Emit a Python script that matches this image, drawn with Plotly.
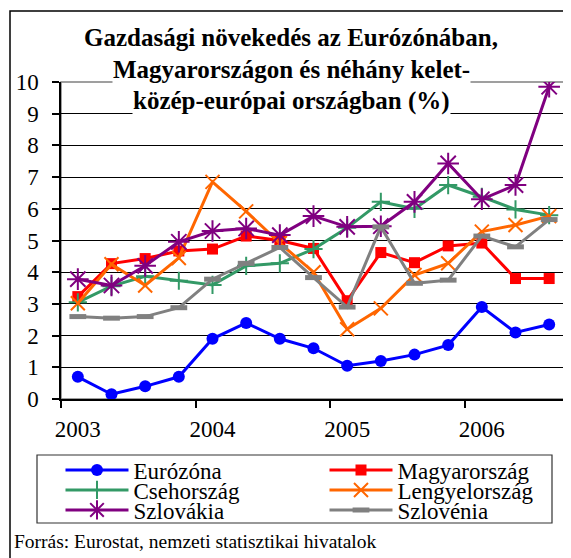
import plotly.graph_objects as go

quarters = list(range(15))
year_ticks = [0, 4, 8, 12]
year_labels = ["2003", "2004", "2005", "2006"]

eurozona = [0.7, 0.15, 0.4, 0.7, 1.9, 2.4, 1.9, 1.6, 1.05, 1.2, 1.4, 1.7, 2.9, 2.1, 2.35]
magyar = [3.23, 4.27, 4.43, 4.67, 4.73, 5.14, 5.0, 4.75, 3.1, 4.62, 4.3, 4.83, 4.92, 3.8, 3.8]
cseh = [3.05, 3.56, 3.87, 3.73, 3.6, 4.2, 4.28, 4.73, 5.4, 6.22, 6.0, 6.75, 6.38, 5.98, 5.8]
lengyel = [3.02, 4.25, 3.58, 4.45, 6.85, 5.92, 4.92, 4.0, 2.2, 2.86, 3.91, 4.28, 5.28, 5.49, 5.77]
szlovakia = [3.78, 3.58, 4.2, 4.96, 5.3, 5.38, 5.17, 5.77, 5.43, 5.45, 6.22, 7.43, 6.3, 6.75, 9.85]
szlovenia = [2.6, 2.55, 2.6, 2.88, 3.78, 4.28, 4.78, 3.83, 2.9, 5.43, 3.65, 3.75, 5.14, 4.8, 5.66]

series = [
    ("Eurózóna", eurozona, "#0000FF", dict(symbol="circle", size=12), "legend"),
    ("Magyarország", magyar, "#FF0000", dict(symbol="square", size=11), "legend"),
    ("Csehország", cseh, "#339966", dict(symbol="cross-thin", size=13, line=dict(width=2, color="#339966")), "legend2"),
    ("Lengyelország", lengyel, "#FF6600", dict(symbol="x-thin", size=14, line=dict(width=2, color="#FF6600")), "legend2"),
    ("Szlovákia", szlovakia, "#800080", dict(symbol="asterisk", size=18, line=dict(width=2, color="#800080")), "legend3"),
    ("Szlovénia", szlovenia, "#808080", dict(symbol="line-ew", size=12, line=dict(width=5, color="#808080")), "legend3"),
]

FONT = "Times New Roman"

fig = go.Figure()
for name, vals, col, mk, lg in series:
    mk = dict(mk)
    mk["color"] = col
    fig.add_trace(go.Scatter(x=quarters, y=vals, name=name, mode="lines+markers",
                             line=dict(color=col, width=3), marker=mk, legend=lg))

OFF = 8  # page body margin
W, H = 571, 558
L, T = 61 - OFF, 82 - OFF
R = W - (566 - OFF)
B = H - (399 - OFF)
pw, ph = W - L - R, H - T - B

def px(v):
    return (v - OFF - L) / pw

def py(v):
    return (H - B - (v - OFF)) / ph

def legend_row(yc):
    return dict(orientation="h", x=-0.001, y=py(yc), xanchor="left", yanchor="middle",
                entrywidth=186, entrywidthmode="pixels", itemwidth=63,
                font=dict(family=FONT, size=23, color="black"),
                bgcolor="rgba(0,0,0,0)", borderwidth=0)

fig.update_layout(
    width=W, height=H,
    margin=dict(l=L, r=R, t=T, b=B, autoexpand=False),
    paper_bgcolor="white", plot_bgcolor="white",
    font=dict(family=FONT, color="black", size=21),
    showlegend=True,
    legend=legend_row(470),
    legend2=legend_row(490),
    legend3=legend_row(510),
    xaxis=dict(range=[-0.5, 14.5], tickvals=year_ticks, ticktext=year_labels,
               ticks="", showgrid=False, zeroline=False,
               showline=True, linecolor="black", linewidth=1.5,
               tickfont=dict(family=FONT, size=23), ticklabelstandoff=9,
               minor=dict(tickvals=[-0.5, 3.5, 7.5, 11.5], ticks="outside", ticklen=7,
                          tickcolor="black", tickwidth=1.5, showgrid=False)),
    yaxis=dict(range=[0, 10], dtick=1, tick0=0, ticks="outside", ticklen=7,
               tickcolor="black", tickwidth=1.5, showgrid=True, gridcolor="black",
               gridwidth=1, zeroline=False, showline=True, linecolor="black", linewidth=1.5,
               tickfont=dict(family=FONT, size=23), ticklabelstandoff=9),
)

fig.add_shape(type="rect", xref="paper", yref="paper", x0=0, x1=1, y0=0, y1=1,
              line=dict(color="#808080", width=1.5), layer="below")
fig.add_shape(type="rect", xref="paper", yref="paper", x0=px(10), x1=px(590), y0=py(575), y1=py(11),
              line=dict(color="black", width=1.5), layer="below")
fig.add_shape(type="rect", xref="paper", yref="paper", x0=px(37), x1=px(552), y0=py(523), y1=py(455),
              line=dict(color="#333333", width=1.2), layer="above")

title_lines = [("Gazdasági növekedés az Eurózónában,", 37),
               ("Magyarországon és néhány kelet-", 69),
               ("közép-európai országban (%)", 101)]
for txt, yy in title_lines:
    fig.add_annotation(text="<b>" + txt + "</b>", xref="paper", yref="paper",
                       x=px(291), y=py(yy), xanchor="center", yanchor="middle",
                       showarrow=False, bgcolor="white", borderpad=0,
                       font=dict(family=FONT, size=25, color="black"))

fig.add_annotation(text="Forrás: Eurostat, nemzeti statisztikai hivatalok", xref="paper", yref="paper",
                   x=px(12), y=py(541), xanchor="left", yanchor="middle", showarrow=False,
                   font=dict(family=FONT, size=19.5, color="black"))

fig.write_html("out.html")
